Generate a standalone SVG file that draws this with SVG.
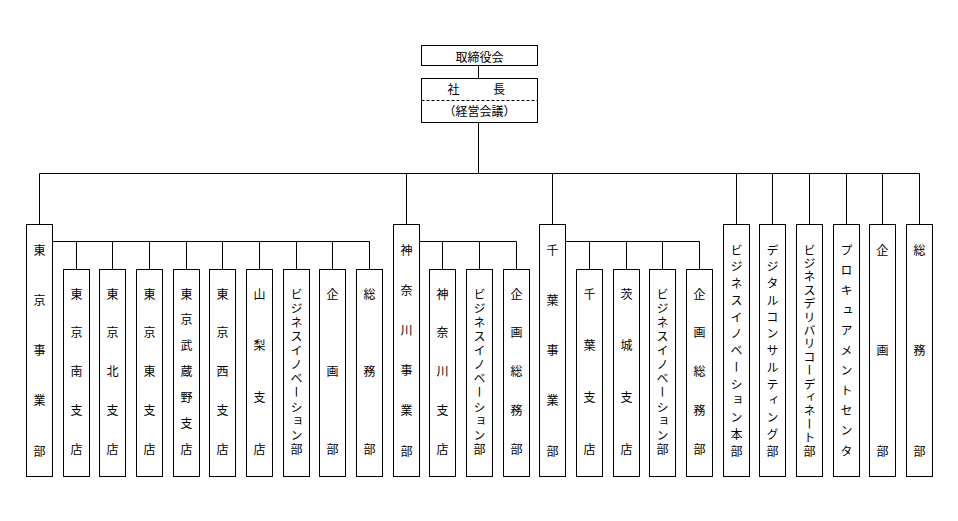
<svg xmlns="http://www.w3.org/2000/svg" width="958" height="521" viewBox="0 0 958 521">
<style>
rect{fill:#fff;stroke:#000;stroke-width:1}
text{font-family:"Noto Sans CJK JP","Noto Sans CJK SC",sans-serif;font-size:12px;fill:#000}
.h{text-anchor:middle}
.v{writing-mode:vertical-rl;text-anchor:middle}
#connectors path{fill:none;stroke:#000;stroke-width:1}
</style>
<rect x="0" y="0" width="958" height="521" style="stroke:none"/>
<g id="connectors">
<path d="M478.5 65.5V78.5M478.5 122.5V173.5M39.5 173.5H919.5"/>
<path d="M39.5 173.5V224.5M406.5 173.5V224.5M552.5 173.5V224.5M736.5 173.5V224.5M772.5 173.5V224.5M809.5 173.5V224.5M846.5 173.5V224.5M882.5 173.5V224.5M919.5 173.5V224.5"/>
<path d="M52.5 241.5H369.5M76.5 241.5V269.5M112.5 241.5V269.5M149.5 241.5V269.5M186.5 241.5V269.5M222.5 241.5V269.5M259.5 241.5V269.5M296.5 241.5V269.5M332.5 241.5V269.5M369.5 241.5V269.5"/>
<path d="M419.5 241.5H516.5M442.5 241.5V269.5M479.5 241.5V269.5M516.5 241.5V269.5"/>
<path d="M565.5 241.5H699.5M589.5 241.5V269.5M626.5 241.5V269.5M662.5 241.5V269.5M699.5 241.5V269.5"/>
</g>
<g id="board"><rect x="421.5" y="45.5" width="116" height="20"/><text class="h" x="479.5" y="61.5">取締役会</text></g>
<g id="president"><rect x="421.5" y="78.5" width="116" height="44"/><path d="M421.5 100.5H537.5" style="stroke:#000;stroke-dasharray:3 2"/><text class="h" x="453.5" y="93.5">社</text><text class="h" x="499" y="93.5">長</text><text class="h" x="479.5" y="115.5">（経営会議）</text></g>

<g id="tokyo"><rect x="26.5" y="224.5" width="26" height="252"/><text class="v" x="39.5 39.5 39.5 39.5 39.5" y="250 300.25 350.5 400.75 451">東京事業部</text></g>
<g id="tokyo-minami"><rect x="63.5" y="269.5" width="26" height="207"/><text class="v" x="76.5 76.5 76.5 76.5 76.5" y="294 332.9 371.75 410.6 449.5">東京南支店</text></g>
<g id="tokyo-kita"><rect x="99.5" y="269.5" width="26" height="207"/><text class="v" x="112.5 112.5 112.5 112.5 112.5" y="294 332.9 371.75 410.6 449.5">東京北支店</text></g>
<g id="tokyo-higashi"><rect x="136.5" y="269.5" width="26" height="207"/><text class="v" x="149.5 149.5 149.5 149.5 149.5" y="294 332.9 371.75 410.6 449.5">東京東支店</text></g>
<g id="tokyo-musashino"><rect x="173.5" y="269.5" width="26" height="207"/><text class="v" x="186.5 186.5 186.5 186.5 186.5 186.5 186.5" y="294 319.9 345.8 371.75 397.7 423.6 449.5">東京武蔵野支店</text></g>
<g id="tokyo-nishi"><rect x="209.5" y="269.5" width="26" height="207"/><text class="v" x="222.5 222.5 222.5 222.5 222.5" y="294 332.9 371.75 410.6 449.5">東京西支店</text></g>
<g id="yamanashi"><rect x="246.5" y="269.5" width="26" height="207"/><text class="v" x="259.5 259.5 259.5 259.5" y="294 345.8 397.7 449.5">山梨支店</text></g>
<g id="tokyo-bi"><rect x="283.5" y="269.5" width="26" height="207"/><text class="v" x="296.5 296.5 296.5 296.5 296.5 296.5 296.5 296.5 296.5 296.5 296.5 296.5" y="294 308.1 322.3 336.4 350.5 364.7 378.8 392.95 407.1 421.2 435.4 449.5">ビジネスイノベーション部</text></g>
<g id="tokyo-kikaku"><rect x="319.5" y="269.5" width="26" height="207"/><text class="v" x="332.5 332.5 332.5" y="294 371.75 449.5">企画部</text></g>
<g id="tokyo-somu"><rect x="356.5" y="269.5" width="26" height="207"/><text class="v" x="369.5 369.5 369.5" y="294 371.75 449.5">総務部</text></g>

<g id="kanagawa"><rect x="393.5" y="224.5" width="26" height="252"/><text class="v" x="406.5 406.5 406.5 406.5 406.5 406.5" y="250 290.2 330.4 370.6 410.8 451">神奈川事業部</text></g>
<g id="kanagawa-shiten"><rect x="429.5" y="269.5" width="26" height="207"/><text class="v" x="442.5 442.5 442.5 442.5 442.5" y="294 332.9 371.75 410.6 449.5">神奈川支店</text></g>
<g id="kanagawa-bi"><rect x="466.5" y="269.5" width="26" height="207"/><text class="v" x="479.5 479.5 479.5 479.5 479.5 479.5 479.5 479.5 479.5 479.5 479.5 479.5" y="294 308.1 322.3 336.4 350.5 364.7 378.8 392.95 407.1 421.2 435.4 449.5">ビジネスイノベーション部</text></g>
<g id="kanagawa-kikaku"><rect x="503.5" y="269.5" width="26" height="207"/><text class="v" x="516.5 516.5 516.5 516.5 516.5" y="294 332.9 371.75 410.6 449.5">企画総務部</text></g>

<g id="chiba"><rect x="539.5" y="224.5" width="26" height="252"/><text class="v" x="552.5 552.5 552.5 552.5 552.5" y="250 300.25 350.5 400.75 451">千葉事業部</text></g>
<g id="chiba-shiten"><rect x="576.5" y="269.5" width="26" height="207"/><text class="v" x="589.5 589.5 589.5 589.5" y="294 345.8 397.7 449.5">千葉支店</text></g>
<g id="ibaraki"><rect x="613.5" y="269.5" width="26" height="207"/><text class="v" x="626.5 626.5 626.5 626.5" y="294 345.8 397.7 449.5">茨城支店</text></g>
<g id="chiba-bi"><rect x="649.5" y="269.5" width="26" height="207"/><text class="v" x="662.5 662.5 662.5 662.5 662.5 662.5 662.5 662.5 662.5 662.5 662.5 662.5" y="294 308.1 322.3 336.4 350.5 364.7 378.8 392.95 407.1 421.2 435.4 449.5">ビジネスイノベーション部</text></g>
<g id="chiba-kikaku"><rect x="686.5" y="269.5" width="26" height="207"/><text class="v" x="699.5 699.5 699.5 699.5 699.5" y="294 332.9 371.75 410.6 449.5">企画総務部</text></g>

<g id="bi-honbu"><rect x="723.5" y="224.5" width="26" height="252"/><text class="v" x="736.5 736.5 736.5 736.5 736.5 736.5 736.5 736.5 736.5 736.5 736.5 736.5 736.5" y="250 266.75 283.5 300.25 317 333.75 350.5 367.25 384 400.75 417.5 434.25 451">ビジネスイノベーション本部</text></g>
<g id="digital"><rect x="759.5" y="224.5" width="26" height="252"/><text class="v" x="772.5 772.5 772.5 772.5 772.5 772.5 772.5 772.5 772.5 772.5 772.5 772.5 772.5" y="250 266.75 283.5 300.25 317 333.75 350.5 367.25 384 400.75 417.5 434.25 451">デジタルコンサルティング部</text></g>
<g id="delivery"><rect x="796.5" y="224.5" width="26" height="252"/><text class="v" x="809.5 809.5 809.5 809.5 809.5 809.5 809.5 809.5 809.5 809.5 809.5 809.5 809.5 809.5 809.5 809.5" y="250 263.4 276.8 290.2 303.6 317 330.4 343.8 357.2 370.6 384 397.4 410.8 424.2 437.6 451">ビジネスデリバリコーディネート部</text></g>
<g id="procurement"><rect x="833.5" y="224.5" width="26" height="252"/><text class="v" x="846.5 846.5 846.5 846.5 846.5 846.5 846.5 846.5 846.5 846.5 846.5" y="250 270.1 290.2 310.3 330.4 350.5 370.6 390.7 410.8 430.9 451">プロキュアメントセンタ</text></g>
<g id="kikaku"><rect x="869.5" y="224.5" width="26" height="252"/><text class="v" x="882.5 882.5 882.5" y="250 350.5 451">企画部</text></g>
<g id="somu"><rect x="906.5" y="224.5" width="26" height="252"/><text class="v" x="919.5 919.5 919.5" y="250 350.5 451">総務部</text></g>
</svg>
